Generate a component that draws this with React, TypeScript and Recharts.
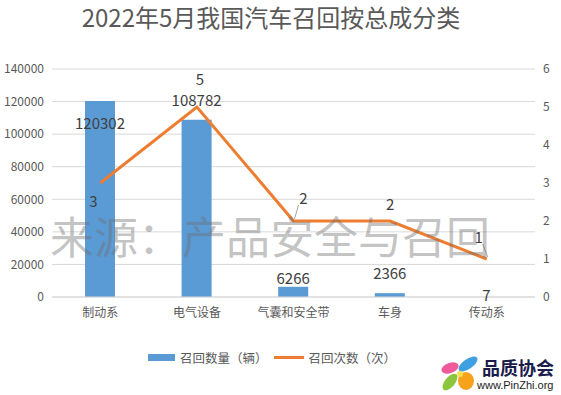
import { Bar, CartesianGrid, ComposedChart, LabelList, Line, XAxis, YAxis } from "recharts";

const categories = ["制动系", "电气设备", "气囊和安全带", "车身", "传动系"];
const recallVehicles = [120302, 108782, 6266, 2366, 7];
const recallTimes = [3, 5, 2, 2, 1];
const leftTicks = [0, 20000, 40000, 60000, 80000, 100000, 120000, 140000];
const rightTicks = [0, 1, 2, 3, 4, 5, 6];

const data = categories.map((name, i) => ({
  name,
  vehicles: recallVehicles[i],
  times: recallTimes[i],
}));

const FONT = '"Noto Sans CJK SC", "Noto Sans", sans-serif';
const GREY = "#595959";

// label nudges
const barLabelDy = [21, -20, -9, -21, -2];
const lineLabelOffset = [
  [-7, 17],
  [3, -29],
  [10, -24],
  [0, -18],
  [-8, -23],
];

function BarLabel(props: any) {
  const { x, y, width, index, value } = props;
  return (
    <text
      x={x + width / 2}
      y={y + barLabelDy[index]}
      textAnchor="middle"
      dominantBaseline="central"
      fontSize={15}
      fill="#404040"
      fontFamily={FONT}
    >
      {value}
    </text>
  );
}

function LineLabel(props: any) {
  const { x, y, index, value } = props;
  const [dx, dy] = lineLabelOffset[index];
  const withLeader = index === 2 || index === 4;
  return (
    <g>
      {withLeader && (
        <line
          x1={x + dx * 0.5}
          y1={y + dy + 8}
          x2={x + 1}
          y2={y - 2}
          stroke="#a6a6a6"
          strokeWidth={1}
        />
      )}
      <text
        x={x + dx}
        y={y + dy}
        textAnchor="middle"
        dominantBaseline="central"
        fontSize={15}
        fill="#404040"
        fontFamily={FONT}
      >
        {value}
      </text>
    </g>
  );
}

function Logo() {
  return (
    <div style={{ position: "absolute", left: 436, top: 354, width: 125, height: 41 }}>
      <svg width={46} height={40} style={{ position: "absolute", left: 0, top: 0 }}>
        <ellipse cx={14} cy={14} rx={9} ry={5} fill="#ef5a9b" transform="rotate(-20 14 14)" />
        <ellipse cx={32} cy={10} rx={11} ry={5} fill="#3ea0e0" transform="rotate(-35 32 10)" />
        <ellipse cx={14} cy={28} rx={10} ry={5} fill="#8cc63f" transform="rotate(-50 14 28)" />
        <ellipse cx={30} cy={27} rx={8} ry={9} fill="#f7a21b" />
        <ellipse cx={24} cy={20} rx={3} ry={3} fill="#ffe04a" />
      </svg>
      <div
        style={{
          position: "absolute",
          left: 46,
          top: 2,
          fontFamily: FONT,
          fontWeight: 700,
          fontSize: 18,
          color: "#1c1c4c",
          whiteSpace: "nowrap",
          lineHeight: "22px",
        }}
      >
        品质协会
      </div>
      <div
        style={{
          position: "absolute",
          left: 41,
          top: 25,
          fontFamily: '"Liberation Sans", Arial, sans-serif',
          fontSize: 11,
          color: "#222",
          whiteSpace: "nowrap",
          lineHeight: "13px",
        }}
      >
        www.PinZhi.org
      </div>
    </div>
  );
}

export default function App() {
  return (
    <div
      style={{
        position: "absolute",
        left: 0,
        top: 0,
        width: 561,
        height: 395,
        background: "#fff",
        overflow: "hidden",
        fontFamily: FONT,
      }}
    >
      <div
        style={{
          position: "absolute",
          left: 0,
          top: 2,
          width: 561,
          textAlign: "center",
          fontSize: 24,
          lineHeight: "30px",
          color: GREY,
          paddingRight: 19,
          boxSizing: "border-box",
          whiteSpace: "nowrap",
        }}
      >
        2022年5月我国汽车召回按总成分类
      </div>

      <ComposedChart
        width={561}
        height={395}
        data={data}
        margin={{ top: 69, right: 0, bottom: 73, left: 0 }}
        style={{ position: "absolute", left: 0, top: 0 }}
      >
        <CartesianGrid vertical={false} stroke="#d9d9d9" yAxisId="left" />
        <XAxis
          dataKey="name"
          axisLine={{ stroke: "#d9d9d9" }}
          tickLine={false}
          tickMargin={5}
          height={25}
          tick={{ fontSize: 12, fill: GREY, fontFamily: FONT }}
          interval={0}
        />
        <YAxis
          yAxisId="left"
          domain={[0, 140000]}
          ticks={leftTicks}
          width={52}
          axisLine={false}
          tickLine={false}
          tick={{ fontSize: 12, fill: GREY, fontFamily: FONT }}
        />
        <YAxis
          yAxisId="right"
          orientation="right"
          domain={[0, 6]}
          ticks={rightTicks}
          width={26}
          axisLine={false}
          tickLine={false}
          tick={{ fontSize: 12, fill: GREY, fontFamily: FONT }}
        />
        <Bar yAxisId="left" dataKey="vehicles" fill="#5b9bd5" barSize={30} isAnimationActive={false}>
          <LabelList dataKey="vehicles" content={BarLabel} />
        </Bar>
        <Line
          yAxisId="right"
          dataKey="times"
          type="linear"
          stroke="#ed7d31"
          strokeWidth={3}
          dot={false}
          activeDot={false}
          isAnimationActive={false}
        >
          <LabelList dataKey="times" content={LineLabel} />
        </Line>
      </ComposedChart>

      <div
        style={{
          position: "absolute",
          left: 50,
          top: 210,
          fontSize: 44,
          lineHeight: "50px",
          color: "rgba(110,110,110,0.42)",
          whiteSpace: "nowrap",
          pointerEvents: "none",
        }}
      >
        来源：产品安全与召回
      </div>

      <div
        style={{
          position: "absolute",
          left: 148,
          top: 348,
          height: 18,
          display: "flex",
          alignItems: "center",
          fontSize: 12.5,
          color: GREY,
          whiteSpace: "nowrap",
        }}
      >
        <span style={{ display: "inline-block", width: 27, height: 7, background: "#5b9bd5", marginRight: 5 }} />
        <span>召回数量（辆）</span>
        <span
          style={{ display: "inline-block", width: 30, height: 3, background: "#ed7d31", marginLeft: 6, marginRight: 5 }}
        />
        <span>召回次数（次）</span>
      </div>

      <Logo />
    </div>
  );
}
